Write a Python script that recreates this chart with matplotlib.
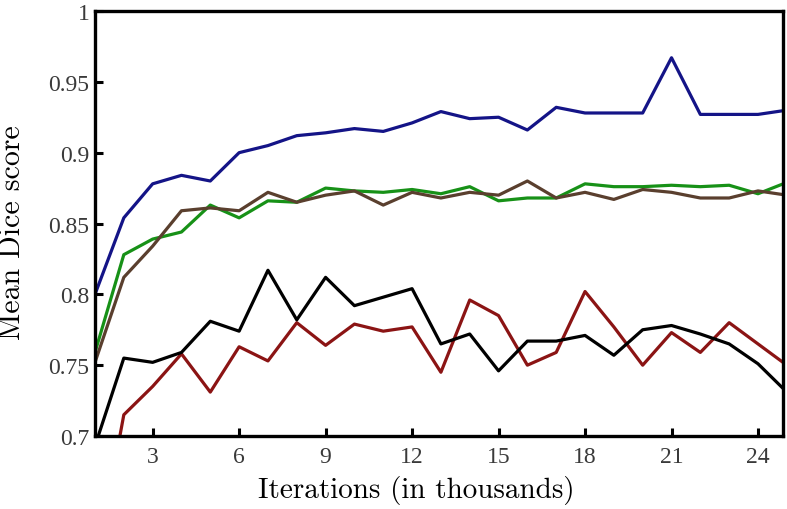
import matplotlib
matplotlib.use("Agg")
import matplotlib.pyplot as plt

# iterations (in thousands)
iters = list(range(1, 26))

blue = [0.800, 0.854, 0.878, 0.884, 0.880, 0.900, 0.905, 0.912, 0.914, 0.917,
        0.915, 0.921, 0.929, 0.924, 0.925, 0.916, 0.932, 0.928, 0.928, 0.928,
        0.967, 0.927, 0.927, 0.927, 0.930]
green = [0.759, 0.828, 0.839, 0.844, 0.863, 0.854, 0.866, 0.865, 0.875, 0.873,
         0.872, 0.874, 0.871, 0.876, 0.866, 0.868, 0.868, 0.878, 0.876, 0.876,
         0.877, 0.876, 0.877, 0.871, 0.879]
brown = [0.752, 0.812, 0.834, 0.859, 0.861, 0.859, 0.872, 0.865, 0.870, 0.873,
         0.863, 0.872, 0.868, 0.872, 0.870, 0.880, 0.868, 0.872, 0.867, 0.874,
         0.872, 0.868, 0.868, 0.873, 0.870]
black = [0.693, 0.755, 0.752, 0.759, 0.781, 0.774, 0.817, 0.782, 0.812, 0.792,
         0.798, 0.804, 0.765, 0.772, 0.746, 0.767, 0.767, 0.771, 0.757, 0.775,
         0.778, 0.772, 0.765, 0.751, 0.731]
red = [0.605, 0.715, 0.735, 0.758, 0.731, 0.763, 0.753, 0.780, 0.764, 0.779,
       0.774, 0.777, 0.745, 0.796, 0.785, 0.750, 0.759, 0.802, 0.777, 0.750,
       0.773, 0.759, 0.780, 0.765, 0.750]

xticks = [3, 6, 9, 12, 15, 18, 21, 24]
yticks = [0.7, 0.75, 0.8, 0.85, 0.9, 0.95, 1.0]
ytick_labels = ["0.7", "0.75", "0.8", "0.85", "0.9", "0.95", "1"]

fig = plt.figure(figsize=(7.87, 5.10), dpi=100)
ax = fig.add_axes([0.1207, 0.1431, 0.8743, 0.8334])

lw = 2.3
ax.plot(iters, red, color="#8b1414", lw=lw)
ax.plot(iters, black, color="#000000", lw=lw)
ax.plot(iters, green, color="#179117", lw=lw)
ax.plot(iters, brown, color="#5a3f2e", lw=lw)
ax.plot(iters, blue, color="#141487", lw=lw)

ax.set_xlim(1, 24.87)
ax.set_ylim(0.7, 1.0)
ax.set_xticks(xticks)
ax.set_xticklabels([str(t) for t in xticks])
ax.set_yticks(yticks)
ax.set_yticklabels(ytick_labels)

for s in ax.spines.values():
    s.set_linewidth(2.4)
ax.tick_params(direction="in", length=6, width=2.2, top=False, right=False,
               labelsize=17, labelcolor="#3a3a3a")
ax.tick_params(axis="x", pad=7)
ax.tick_params(axis="y", pad=4)
for lab in ax.get_xticklabels() + ax.get_yticklabels():
    lab.set_family("Liberation Serif")

ax.set_xlabel("Iterations (in thousands)", family="cmr10", fontsize=21)
ax.set_ylabel("Mean Dice score", family="cmr10", fontsize=21.5)
ax.xaxis.set_label_coords(0.4666, -0.092)
ax.yaxis.set_label_coords(-0.100, 0.482)

fig.savefig("out.png", dpi=100)
